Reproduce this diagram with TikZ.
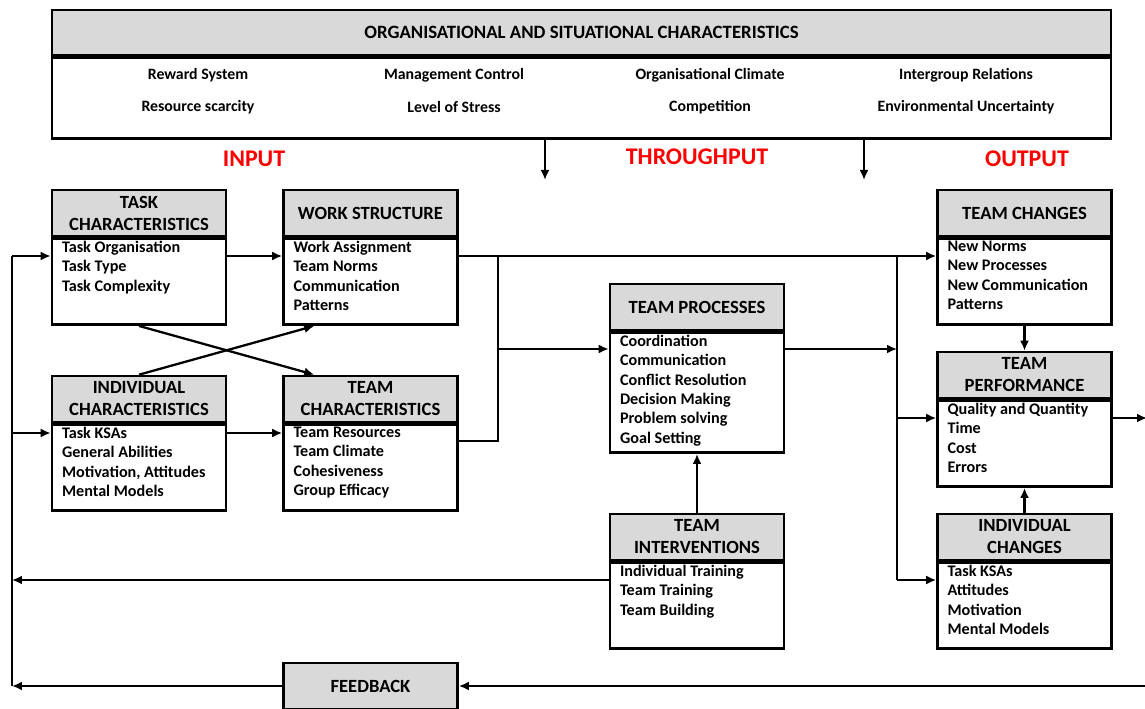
\documentclass[tikz,border=0pt]{standalone}
\usepackage{fontspec}
\setmainfont{Carlito}
\usepackage{xcolor}
\usetikzlibrary{arrows.meta,positioning,calc}

\definecolor{headgray}{HTML}{D9D9D9}
\definecolor{phasered}{HTML}{FF0000}
\newcommand{\itemlist}[2][1.62cm]{\parbox[t][#1][t]{3.08cm}{\raggedright #2}}

\tikzset{
  box/.style={draw, line width=1.5pt, minimum width=3.48cm, inner sep=0pt},
  head/.style={box, fill=headgray, minimum height=0.92cm, align=center,
    font=\bfseries\fontsize{10.6}{12.5}\selectfont},
  body/.style={box, below=0pt of #1, inner xsep=0.2cm, inner ysep=0.05cm,
    font=\bfseries\fontsize{9.2}{11}\selectfont},
  topitem/.style={font=\bfseries\fontsize{9}{10}\selectfont, inner sep=0pt},
  phase/.style={text=phasered, font=\bfseries\fontsize{13.6}{15}\selectfont, inner sep=0pt},
  arr/.style={line width=1.3pt, -{Latex[length=2mm,width=1.8mm]}},
  wire/.style={line width=1.3pt}
}

\begin{document}
\begin{tikzpicture}[x=0.02cm, y=-0.02cm]
	\useasboundingbox (0,0) rectangle (1145,709);

	% organisational context
	\node[box, fill=headgray, minimum width=21.18cm, minimum height=0.9cm,
		font=\bfseries\fontsize{10.7}{12}\selectfont] (orgH) at (581.5,32.5) {ORGANISATIONAL AND SITUATIONAL CHARACTERISTICS};
	\node[box, minimum width=21.18cm, minimum height=1.62cm, below=0pt of orgH] (org) {};
	\node[topitem] (rew) at (198,75) {Reward System};
	\node[topitem] (mgt) at (454,75) {Management Control};
	\node[topitem] (clim) at (710,75) {Organisational Climate};
	\node[topitem] (igr) at (966,75) {Intergroup Relations};
	\node[topitem] (res) at (198,107) {Resource scarcity};
	\node[topitem] (str) at (454,107) {Level of Stress};
	\node[topitem] (comp) at (710,107) {Competition};
	\node[topitem] (env) at (966,107) {Environmental Uncertainty};

	\node[phase] (inp) at (254,159) {INPUT};
	\node[phase] (thr) at (697,157) {THROUGHPUT};
	\node[phase] (outp) at (1027,159) {OUTPUT};

	% input boxes
	\node[head] (taskH) at (139,213) {TASK\\CHARACTERISTICS};
	\node[body=taskH] (task) {\itemlist{Task Organisation\\Task Type\\Task Complexity}};
	\node[head] (workH) at (370.5,213) {WORK STRUCTURE};
	\node[body=workH] (work) {\itemlist{Work Assignment\\Team Norms\\Communication\\Patterns}};
	\node[head] (indivH) at (139,399) {INDIVIDUAL\\CHARACTERISTICS};
	\node[body=indivH] (indiv) {\itemlist{Task KSAs\\General Abilities\\Motivation, Attitudes\\Mental Models}};
	\node[head] (teamcH) at (370.5,399) {TEAM\\CHARACTERISTICS};
	\node[body=teamcH] (teamc) {\itemlist{Team Resources\\Team Climate\\Cohesiveness\\Group Efficacy}};

	% throughput
	\node[head] (procH) at (697,307) {TEAM PROCESSES};
	\node[body=procH] (proc) {\itemlist[2.3cm]{Coordination\\Communication\\Conflict Resolution\\Decision Making\\Problem solving\\Goal Setting}};
	\node[head] (intervH) at (697,537) {TEAM\\INTERVENTIONS};
	\node[body=intervH] (interv) {\itemlist{Individual Training\\Team Training\\Team Building}};

	% output
	\node[head] (chgH) at (1024.5,213) {TEAM CHANGES};
	\node[body=chgH] (chg) {\itemlist{New Norms\\New Processes\\New Communication\\Patterns}};
	\node[head] (perfH) at (1024.5,375) {TEAM\\PERFORMANCE};
	\node[body=perfH] (perf) {\itemlist{Quality and Quantity\\Time\\Cost\\Errors}};
	\node[head] (ichgH) at (1024.5,537) {INDIVIDUAL\\CHANGES};
	\node[body=ichgH] (ichg) {\itemlist{Task KSAs\\Attitudes\\Motivation\\Mental Models}};

	\node[head] (fb) at (370.5,686) {FEEDBACK};

	% rows and buses
	\coordinate (rowA) at (0,256);
	\coordinate (rowB) at (0,433);
	\coordinate (rowC) at (0,349);
	\coordinate (rowD) at (0,418);
	\coordinate (rowE) at (0,580);
	\coordinate (rowT) at (0,441);
	\coordinate (busL) at (12,686);
	\coordinate (busM) at (498,0);
	\coordinate (busR) at (897,0);
	\coordinate (edgeF) at (1147,686);
	\coordinate (edgeP) at (1147,418);
	\coordinate (dropA) at (545,180);
	\coordinate (dropB) at (864,180);

	\draw[arr] (org.south -| dropA) -- (dropA);
	\draw[arr] (org.south -| dropB) -- (dropB);

	\draw[wire] (busL |- rowA) -- (busL);
	\draw[arr] (busL |- rowA) -- (task.west |- rowA);
	\draw[arr] (busL |- rowB) -- (indiv.west |- rowB);
	\draw[arr] (task.east |- rowA) -- (work.west |- rowA);
	\draw[arr] (indiv.east |- rowB) -- (teamc.west |- rowB);
	\draw[arr] (task.south) -- ([xshift=0.64cm]teamcH.north west);
	\draw[arr] (indivH.north) -- ([xshift=0.64cm]work.south west);

	\draw[arr] (work.east |- rowA) -- (chg.west |- rowA);
	\draw[wire] (busM |- rowA) -- (busM |- rowT) -- (teamc.east |- rowT);
	\draw[arr] (busM |- rowC) -- (proc.west |- rowC);
	\draw[arr] (proc.east |- rowC) -- (busR |- rowC);
	\draw[wire] (busR |- rowA) -- (busR |- rowE);
	\draw[arr] (busR |- rowD) -- (perf.west |- rowD);
	\draw[arr] (busR |- rowE) -- (ichg.west |- rowE);

	\draw[arr] (chg.south) -- (perfH.north);
	\draw[arr] (ichgH.north) -- (perf.south);
	\draw[arr] (intervH.north) -- (proc.south);
	\draw[arr] (perf.east |- rowD) -- (edgeP);

	\draw[arr] (interv.west |- rowE) -- (busL |- rowE);
	\draw[arr] (edgeF) -- (fb.east);
	\draw[arr] (fb.west) -- (busL);
\end{tikzpicture}
\end{document}
